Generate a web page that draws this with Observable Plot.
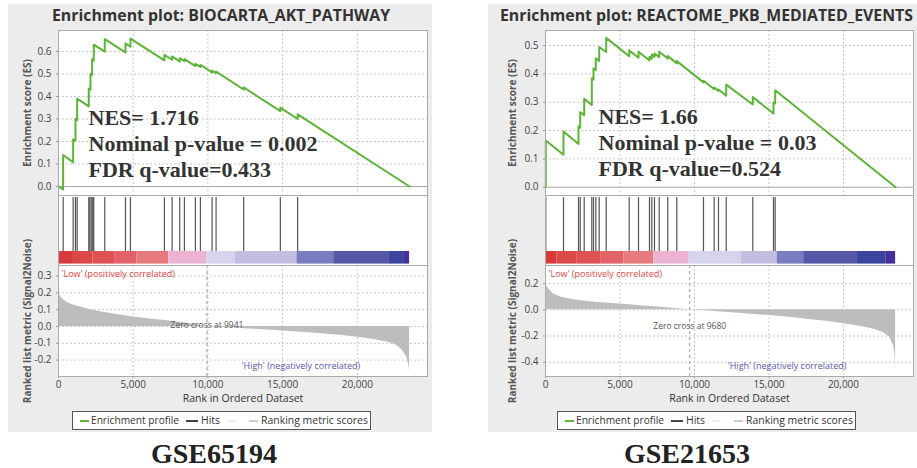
<!DOCTYPE html>
<html><head><meta charset="utf-8">
<script src="https://cdn.jsdelivr.net/npm/d3@7"></script>
<script src="https://cdn.jsdelivr.net/npm/@observablehq/plot@0.6"></script>
<style>
body{margin:0;background:#fff;}
#root{position:relative;width:917px;height:468px;overflow:hidden;background:#fff;font-family:"Open Sans",sans-serif;}
.panel{position:absolute;background:#ececec;}
svg{overflow:visible;}
.title{position:absolute;font-weight:bold;font-size:15.8px;color:#333;white-space:nowrap;line-height:18px;}
.legend{position:absolute;border:1px solid #555;background:#fff;color:#333;width:299px;height:19px;box-sizing:border-box;}
.legend span{position:absolute;white-space:nowrap;}
.lt{top:0;line-height:17px;font-size:10px;}
.sw{top:8px;height:1.5px;}
.gse{position:absolute;font-family:"Liberation Serif",serif;font-weight:bold;font-size:28px;line-height:28px;color:#222;white-space:nowrap;}
</style></head>
<body><div id="root"></div>
<script>
// ---------- shared ----------
const rankTicks = [0, 5000, 10000, 15000, 20000];
const rankDomain = [0, 24700];
const barColors = ["#d63a3a","#db4848","#de5256","#e2626a","#e77a7c","#ecb2d2","#d6d3ec","#c3bde2","#7a7cc0","#5757a8","#3b459f","#48309c"];
const legendLabels = ["Enrichment profile", "Hits", "Ranking metric scores"];

// ---------- GSE65194 : BIOCARTA_AKT_PATHWAY ----------
const aktTitle = "Enrichment plot: BIOCARTA_AKT_PATHWAY";
const aktStats = ["NES= 1.716", "Nominal p-value = 0.002", "FDR q-value=0.433"];
const aktDataset = "GSE65194";
const aktHits = [314, 981, 1137, 1247, 2027, 2094, 2187, 2254, 2321, 2361, 3097, 4482, 4816, 7090, 7605, 8114, 8428, 9164, 9498, 10281, 10548, 12395, 14849, 16007];
const aktEsRank  = [0, 310, 310, 981, 981, 1137, 1137, 1247, 1247, 2027, 2027, 2140, 2140, 2250, 2250, 2361, 2361, 3097, 3097, 4482, 4482, 4816, 4816, 7090, 7090, 7605, 7605, 8114, 8114, 8428, 8428, 9164, 9164, 9498, 9498, 10281, 10281, 10548, 10548, 12395, 12395, 14849, 14849, 16007, 16007, 23500];
const aktEsValue = [0, -0.013, 0.14, 0.107, 0.21, 0.203, 0.30, 0.295, 0.39, 0.356, 0.435, 0.43, 0.50, 0.495, 0.565, 0.56, 0.63, 0.599, 0.655, 0.596, 0.635, 0.621, 0.657, 0.56, 0.585, 0.563, 0.578, 0.556, 0.57, 0.557, 0.566, 0.535, 0.545, 0.531, 0.54, 0.507, 0.515, 0.504, 0.51, 0.431, 0.44, 0.335, 0.35, 0.30, 0.32, 0];
const aktEsTicks = [0, 0.1, 0.2, 0.3, 0.4, 0.5, 0.6];
const aktEsDomain = [-0.04, 0.693];
const aktBarEdges = [0, 1000, 2300, 3800, 5260, 7380, 9940, 11840, 15960, 18420, 22100, 23100, 23500];
const aktMetricRank  = [0, 50, 150, 300, 600, 1000, 2000, 3000, 4000, 5000, 6000, 7000, 8000, 9000, 9941, 11000, 12000, 13000, 14000, 15000, 16000, 17000, 18000, 19000, 20000, 21000, 22000, 22600, 23000, 23300, 23450, 23500];
const aktMetricValue = [0.22, 0.195, 0.175, 0.16, 0.143, 0.128, 0.102, 0.084, 0.069, 0.056, 0.046, 0.037, 0.026, 0.013, 0, -0.006, -0.011, -0.016, -0.021, -0.027, -0.033, -0.039, -0.046, -0.054, -0.064, -0.076, -0.093, -0.11, -0.14, -0.18, -0.23, -0.27];
const aktMetricTicks = [-0.2, -0.1, 0, 0.1, 0.2, 0.3];
const aktMetricDomain = [-0.298, 0.363];
const aktZeroCross = 9941;

// ---------- GSE21653 : REACTOME_PKB_MEDIATED_EVENTS ----------
const pkbTitle = "Enrichment plot: REACTOME_PKB_MEDIATED_EVENTS";
const pkbStats = ["NES= 1.66", "Nominal p-value = 0.03", "FDR q-value=0.524"];
const pkbDataset = "GSE21653";
const pkbHits = [20, 1208, 2215, 2329, 2597, 3107, 3221, 3376, 3604, 4073, 5617, 6242, 6980, 7136, 7315, 7630, 8208, 8812, 10604, 11322, 11611, 12128, 13913, 15302, 15416];
const pkbEsRank  = [0, 20, 20, 1208, 1208, 2215, 2215, 2329, 2329, 2597, 2597, 3107, 3107, 3221, 3221, 3376, 3376, 3604, 3604, 4073, 4073, 5617, 5617, 6242, 6242, 6980, 6980, 7136, 7136, 7315, 7315, 7630, 7630, 8208, 8208, 8812, 8812, 10604, 10604, 11322, 11322, 11611, 11611, 12128, 12128, 13913, 13913, 15302, 15302, 15416, 15416, 23500];
const pkbEsValue = [0, 0, 0.165, 0.115, 0.197, 0.153, 0.215, 0.21, 0.265, 0.254, 0.312, 0.29, 0.385, 0.38, 0.42, 0.413, 0.455, 0.446, 0.495, 0.477, 0.527, 0.462, 0.483, 0.457, 0.478, 0.447, 0.46, 0.453, 0.468, 0.46, 0.472, 0.459, 0.478, 0.454, 0.463, 0.437, 0.445, 0.37, 0.376, 0.346, 0.352, 0.34, 0.345, 0.323, 0.362, 0.292, 0.318, 0.26, 0.30, 0.296, 0.342, 0];
const pkbEsTicks = [0, 0.1, 0.2, 0.3, 0.4, 0.5];
const pkbEsDomain = [-0.029, 0.553];
const pkbBarEdges = [0, 765, 2090, 3700, 5260, 7270, 9640, 13130, 15550, 17330, 20940, 22840, 23500];
const pkbMetricRank  = [0, 60, 200, 500, 1000, 2000, 3000, 4000, 5000, 6000, 7000, 8000, 9000, 9680, 10500, 12000, 13000, 14000, 15000, 16000, 17000, 18000, 19000, 20000, 21000, 22000, 22700, 23100, 23350, 23450, 23500];
const pkbMetricValue = [0.23, 0.19, 0.16, 0.125, 0.097, 0.075, 0.062, 0.052, 0.044, 0.035, 0.026, 0.017, 0.007, 0, -0.006, -0.018, -0.026, -0.035, -0.044, -0.054, -0.065, -0.077, -0.09, -0.106, -0.124, -0.146, -0.175, -0.21, -0.27, -0.34, -0.46];
const pkbMetricTicks = [-0.4, -0.2, 0, 0.2];
const pkbMetricDomain = [-0.509, 0.338];
const pkbZeroCross = 9680;

// ---------- drawing ----------
const root = document.getElementById("root");
const fmt1 = d => d.toFixed(1);
const gridStyle = {stroke: "#c8c8c8", strokeOpacity: 1, strokeDasharray: "2,2"};
const sans = "Open Sans";

function place(node, left, top, parent = root) {
  node.style.position = "absolute";
  node.style.left = left + "px";
  node.style.top = top + "px";
  parent.appendChild(node);
}
// scale a text's font so that it spans the given width
function fitWidth(node, width) {
  const w = node.getBoundingClientRect().width;
  const fs = parseFloat(getComputedStyle(node).fontSize);
  node.style.fontSize = (fs * width / w).toFixed(2) + "px";
}
function centerText(node, cx, top) {
  place(node, 0, top);
  const w = node.getBoundingClientRect().width;
  node.style.left = (cx - w / 2) + "px";
}

function drawLegend(left) {
  const lg = document.createElement("div");
  lg.className = "legend";
  place(lg, left, 411);
  const sw = (x, w, color, h) => {
    const s = document.createElement("span");
    s.className = "sw"; s.style.left = x + "px"; s.style.width = w + "px"; s.style.background = color;
    if (h) { s.style.height = h + "px"; }
    lg.appendChild(s);
  };
  const tx = (x, text, width) => {
    const s = document.createElement("span");
    s.className = "lt"; s.textContent = text; s.style.left = x + "px";
    lg.appendChild(s);
    fitWidth(s, width);
  };
  sw(7, 9, "#5db437", 2);
  tx(18, legendLabels[0], 88);
  sw(113, 12, "#444");
  tx(128, legendLabels[1], 19);
  sw(155, 8, "#eee");
  sw(176, 9, "#ccc");
  tx(188, legendLabels[2], 107);
}

function drawPanel(cfg) {
  const {svgLeft, width, mr, title, titleSpan, stats, statsDx, esRank, esValue, esTicks, esDomain, hits, barEdges,
         metricRank, metricValue, metricTicks, metricDomain, zeroCross, zeroDy, esLabelDx, legendLeft, dataset, datasetX} = cfg;

  const t = document.createElement("div");
  t.className = "title"; t.textContent = title;
  place(t, titleSpan[0], 6);
  fitWidth(t, titleSpan[1] - titleSpan[0]);

  const esData = esRank.map((r, i) => ({rank: r, es: esValue[i]}));
  const es = Plot.plot({
    width, height: 195, marginLeft: 58, marginRight: mr, marginTop: 30, marginBottom: 0,
    style: {background: "transparent", fontFamily: sans, fontSize: "10px", color: "#444"},
    x: {domain: rankDomain, axis: null},
    y: {domain: esDomain, axis: null},
    marks: [
      Plot.frame({fill: "white"}),
      Plot.gridX(rankTicks.slice(1), gridStyle),
      Plot.gridY(esTicks.slice(1), gridStyle),
      Plot.ruleY([0], {stroke: "#aaa"}),
      Plot.axisY(esTicks, {tickFormat: fmt1, tickSize: 2, tickPadding: 5, label: null, fontSize: 10, stroke: "#999"}),
      Plot.line(esData, {x: "rank", y: "es", stroke: "#5db437", strokeWidth: 2}),
      Plot.text([stats.join("\n")], {frameAnchor: "top-left", dx: statsDx, dy: cfg.statsDy, textAnchor: "start", lineAnchor: "top",
        lineHeight: 1.19, fontFamily: "Liberation Serif", fontWeight: "bold", fontSize: 22, fill: "#333"}),
      Plot.text(["Enrichment score (ES)"], {frameAnchor: "left", rotate: -90, dx: esLabelDx, textAnchor: "middle", lineAnchor: "middle", fontWeight: "bold", fontSize: 10, fill: "#555"}),
      Plot.frame({stroke: "#aaa"})
    ]
  });
  place(es, svgLeft, 0);

  const bars = barColors.map((c, i) => ({x1: barEdges[i], x2: barEdges[i + 1], color: c}));
  const hp = Plot.plot({
    width, height: 70, marginLeft: 58, marginRight: mr, marginTop: 0, marginBottom: 0,
    style: {background: "transparent"},
    x: {domain: rankDomain, axis: null},
    y: {domain: [0, 1], axis: null},
    color: {type: "identity"},
    marks: [
      Plot.frame({fill: "white"}),
      Plot.rect(bars, {x1: "x1", x2: "x2", y1: 0.02, y2: 0.2, fill: "color"}),
      Plot.ruleX(hits, {y1: 0.2, y2: 0.97, stroke: "#555", strokeWidth: 1.2}),
      Plot.frame({stroke: "#aaa"})
    ]
  });
  place(hp, svgLeft, 195);

  const metric = metricRank.map((r, i) => ({rank: r, m: metricValue[i]}));
  const rp = Plot.plot({
    width, height: 146, marginLeft: 58, marginRight: mr, marginTop: 0, marginBottom: 35,
    style: {background: "transparent", fontFamily: sans, fontSize: "10px", color: "#444"},
    x: {domain: rankDomain, axis: null},
    y: {domain: metricDomain, axis: null},
    marks: [
      Plot.frame({fill: "white"}),
      Plot.gridX(rankTicks.slice(1), gridStyle),
      Plot.gridY(metricTicks, gridStyle),
      Plot.areaY(metric, {x: "rank", y: "m", fill: "#bdbdbd"}),
      Plot.ruleX([zeroCross], {stroke: "#999", strokeDasharray: "3,3"}),
      Plot.text([`Zero cross at ${zeroCross}`], {x: zeroCross, frameAnchor: "top", dy: zeroDy, fontSize: 8.5, fill: "#555"}),
      Plot.text(["'Low' (positively correlated)"], {x: 0, frameAnchor: "top", dx: 3, dy: 5, textAnchor: "start", fontSize: 9, fill: "#e0453c"}),
      Plot.text(["'High' (negatively correlated)"], {x: 20200, frameAnchor: "bottom", dy: -8, textAnchor: "end", fontSize: 9, fill: "#5658b0"}),
      Plot.axisY(metricTicks, {tickFormat: fmt1, tickSize: 2, tickPadding: 5, label: null, fontSize: 10, stroke: "#999"}),
      Plot.axisX(rankTicks, {tickFormat: d3.format(","), tickSize: 2, tickPadding: 2, label: null, fontSize: 10, stroke: "#999"}),
      Plot.text(["Rank in Ordered Dataset"], {frameAnchor: "bottom", dy: 25, fontSize: 10.5, fill: "#333"}),
      Plot.text(["Ranked list metric (Signal2Noise)"], {frameAnchor: "left", rotate: -90, dx: esLabelDx, textAnchor: "middle", lineAnchor: "middle", fontWeight: "bold", fontSize: 10, fill: "#555"}),
      Plot.frame({stroke: "#aaa"})
    ]
  });
  place(rp, svgLeft, 265);

  drawLegend(legendLeft);

  const g = document.createElement("div");
  g.className = "gse"; g.textContent = dataset;
  centerText(g, datasetX, 440);
}

// gray panel backgrounds
[[8, 4, 424, 428], [488, 4, 440, 428]].forEach(([l, t, w, h]) => {
  const d = document.createElement("div");
  d.className = "panel";
  d.style.left = l + "px"; d.style.top = t + "px"; d.style.width = w + "px"; d.style.height = h + "px";
  root.appendChild(d);
});

drawPanel({svgLeft: 0, width: 440, mr: 13, title: aktTitle, titleSpan: [52, 390], stats: aktStats, statsDx: 30, statsDy: 76,
  esRank: aktEsRank, esValue: aktEsValue, esTicks: aktEsTicks, esDomain: aktEsDomain, hits: aktHits, barEdges: aktBarEdges,
  metricRank: aktMetricRank, metricValue: aktMetricValue, metricTicks: aktMetricTicks, metricDomain: aktMetricDomain,
  zeroCross: aktZeroCross, zeroDy: 56, esLabelDx: -31, legendLeft: 72, dataset: aktDataset, datasetX: 214});

drawPanel({svgLeft: 487, width: 430, mr: 4, title: pkbTitle, titleSpan: [500, 913], stats: pkbStats, statsDx: 53, statsDy: 75,
  esRank: pkbEsRank, esValue: pkbEsValue, esTicks: pkbEsTicks, esDomain: pkbEsDomain, hits: pkbHits, barEdges: pkbBarEdges,
  metricRank: pkbMetricRank, metricValue: pkbMetricValue, metricTicks: pkbMetricTicks, metricDomain: pkbMetricDomain,
  zeroCross: pkbZeroCross, zeroDy: 57, esLabelDx: -33, legendLeft: 557, dataset: pkbDataset, datasetX: 687});
</script>
</body></html>
